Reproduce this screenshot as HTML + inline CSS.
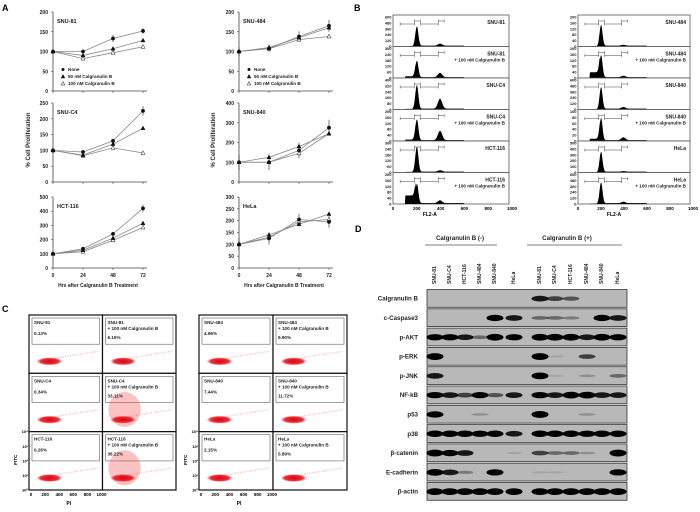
<!DOCTYPE html>
<html><head><meta charset="utf-8"><style>
body{margin:0;background:#fff}svg{display:block;font-family:"Liberation Sans",sans-serif}
</style></head><body>
<svg id="fig" width="700" height="512" viewBox="0 0 700 512">
<text x="2" y="11" font-size="9" font-weight="bold">A</text>
<text x="354" y="11" font-size="9" font-weight="bold">B</text>
<text x="2" y="312" font-size="9" font-weight="bold">C</text>
<text x="355" y="232" font-size="9" font-weight="bold">D</text>
<g id="A"></g><g id="B"></g><g id="C"></g><g id="D"></g>
</svg>
<script>
const NS="http://www.w3.org/2000/svg";
function mk(p,t,a,txt){const e=document.createElementNS(NS,t);for(const k in a)e.setAttribute(k,a[k]);if(txt!==undefined)e.textContent=txt;p.appendChild(e);return e;}

// ---------- Panel A data ----------
const hours=[0,24,48,72];
const cellLinesA=["SNU-81","SNU-C4","HCT-116","SNU-484","SNU-840","HeLa"];
const yMaxA=[200,250,500,200,400,300];
const yStepA=[50,50,100,50,100,50];
const seriesNone=[[100,100,133,152],[100,95,130,225],[100,135,240,420],[100,108,138,165],[100,100,160,275],[100,125,205,195]];
const series50=[[100,90,107,128],[100,85,120,170],[100,125,210,315],[100,110,135,160],[100,125,180,245],[100,140,185,228]];
const series100=[[100,82,97,112],[100,83,108,92],[100,115,195,285],[100,107,130,138],[100,100,145,245],[100,130,195,205]];
const errNone=[[3,4,9,7],[4,5,6,15],[5,8,12,25],[12,10,13,15],[40,40,40,40],[25,25,25,25]];

const A=document.getElementById('A');
const colX=[[53,143],[239,329]];
const rowY=[[12,91],[103,182],[197,268]];
for(let i=0;i<6;i++){
  const c=Math.floor(i/3),r=i%3;
  const [x0,x1]=colX[c],[yt,yb]=rowY[r];
  const g=mk(A,'g',{});
  
  
  const xs=h=>x0+(h/72)*(x1-x0), ys=v=>yb-(v/yMaxA[i])*(yb-yt);
  mk(g,'line',{x1:x0,y1:yt,x2:x0,y2:yb,stroke:'#444','stroke-width':0.8});
  mk(g,'line',{x1:x0,y1:yb,x2:x1+4,y2:yb,stroke:'#444','stroke-width':0.8});
  for(let v=0;v<=yMaxA[i];v+=yStepA[i]){
    mk(g,'line',{x1:x0-2,y1:ys(v),x2:x0,y2:ys(v),stroke:'#444','stroke-width':0.6});
    const t=mk(g,'text',{x:x0-5,y:ys(v)+2,'font-size':5,'text-anchor':'end','font-weight':'bold',fill:'#222'},v);
    
  }
  hours.forEach(h=>mk(g,'line',{x1:xs(h),y1:yb,x2:xs(h),y2:yb+2,stroke:'#444','stroke-width':0.6}));
  if(r===2){hours.forEach(h=>{const t=mk(g,'text',{x:xs(h),y:yb+9,'font-size':5,'text-anchor':'middle','font-weight':'bold',fill:'#222'},h);});
    const t=mk(g,'text',{x:(x0+x1)/2,y:yb+19,'font-size':5,'text-anchor':'middle','font-weight':'bold',fill:'#222'},'Hrs after Calgranulin B Treatment');}
  const lt=mk(g,'text',{x:x0+4,y:yt+11,'font-size':5.5,'font-weight':'bold',fill:'#222'},cellLinesA[i]);
  
  const all=[[series100[i],'open'],[series50[i],'tri'],[seriesNone[i],'circ']];
  all.forEach(([s,type])=>{
    mk(g,'polyline',{points:s.map((v,k)=>xs(hours[k])+','+ys(v)).join(' '),fill:'none',stroke:'#888','stroke-width':0.8});
  });
  seriesNone[i].forEach((v,k)=>{const e=errNone[i][k];mk(g,'line',{x1:xs(hours[k]),y1:ys(v-e),x2:xs(hours[k]),y2:ys(v+e),stroke:'#222','stroke-width':0.6});});
  all.forEach(([s,type])=>s.forEach((v,k)=>{
    const x=xs(hours[k]),y=ys(v);let m;
    if(type==='circ')m=mk(g,'circle',{cx:x,cy:y,r:1.9,fill:'#111'});
    else m=mk(g,'polygon',{points:`${x},${y-2.2} ${x-2},${y+1.5} ${x+2},${y+1.5}`,fill:type==='tri'?'#111':'#fff',stroke:'#111','stroke-width':0.5});
    
  }));
  if(r===0){
    const lg=mk(g,'g',{});
    const lx=x0+10,names=['None','50 nM Calgranulin  B','100 nM Calgranulin  B'];
    names.forEach((n,k)=>{const y=yt+59+k*7;
      if(k===0)mk(lg,'circle',{cx:lx,cy:y-1.5,r:1.5,fill:'#111'});
      else mk(lg,'polygon',{points:`${lx},${y-3.5} ${lx-1.8},${y} ${lx+1.8},${y}`,fill:k===1?'#111':'#fff',stroke:'#111','stroke-width':0.5});
      mk(lg,'text',{x:lx+5,y:y,'font-size':4.6,'font-weight':'bold',fill:'#222'},n);});
  }
}
[[30,140],[215,140]].forEach(([x,y])=>{const t=mk(A,'text',{x:x,y:y,'font-size':6,'font-weight':'bold','text-anchor':'middle',fill:'#222',transform:`rotate(-90 ${x} ${y})`},'% Cell Proliferation');});

// ---------- Panel B data ----------
const histLabels=[["SNU-81","SNU-81|+ 100 nM Calgranulin  B","SNU-C4","SNU-C4|+ 100 nM Calgranulin  B","HCT-116","HCT-116|+ 100 nM Calgranulin  B"],
 ["SNU-484","SNU-484|+ 100 nM Calgranulin B","SNU-840","SNU-840|+ 100 nM Calgranulin  B","HeLa","HeLa|+ 100 nM Calgranulin  B"]];
const histYTicks=[[[120,240,360,480,600],[60,120,180,240,300],[80,160,240,320,400],[40,80,120,160,200],[60,120,180,240,300],[40,80,120,160,200]],
 [[40,80,120,160,200],[40,80,120,160,200],[120,240,360,480,600],[20,40,60,80,100],[100,200,300,400,500],[120,240,360,480,600]]];
const g1Peak=[[0.7,0.6,0.85,0.75,0.9,0.7],[0.75,0.8,0.78,0.8,0.72,0.75]];
const g2Peak=[[0.07,0.15,0.35,0.33,0.05,0.1],[0.03,0.05,0.06,0.1,0.02,0.05]];
const subG1=[[0.01,0.06,0.02,0.05,0.02,0.3],[0.01,0.2,0.01,0.08,0.01,0.01]];
const B=document.getElementById('B');
const bCols=[[393,512],[578,693]];
for(let c=0;c<2;c++)for(let i=0;i<6;i++){
  const [x0,x1]=bCols[c];const y0=15+i*31.5,h=31.5;
  const g=mk(B,'g',{});
  mk(g,'rect',{x:x0,y:y0,width:x1-x0-3,height:h,fill:'#fff',stroke:'#555','stroke-width':0.8});
  const xs=v=>x0+v/1000*(x1-x0);const ymax=histYTicks[c][i][4];
  histYTicks[c][i].forEach(v=>{mk(g,'text',{x:x0-1.5,y:y0+h-(v/ymax)*(h-2)+1.5,'font-size':4,'text-anchor':'end','font-weight':'bold',fill:'#222'},v);});
  mk(g,'text',{x:x0-1.5,y:y0+h+1.5,'font-size':4,'text-anchor':'end','font-weight':'bold'},'0');
  let d=`M${xs(0)},${y0+h}`;
  for(let v=60;v<=1000;v+=4){
    const p=g1Peak[c][i]*Math.exp(-Math.pow((v-200)/18,2))+g2Peak[c][i]*Math.exp(-Math.pow((v-395)/25,2))+(v>100&&v<190?subG1[c][i]:0)+(v>200&&v<600?0.03:0);
    d+=` L${xs(v)},${y0+h-Math.min(p,1)*(h-3)}`;
  }
  d+=` L${xs(1000)},${y0+h} Z`;
  mk(g,'path',{d:d,fill:'#000'});
  [[60,180],[180,230],[230,380],[380,430]].forEach(([a,b],k)=>{const gy=y0+6+(k%2===0?3:0);
    mk(g,'path',{d:`M${xs(a)},${gy-1.5}v3M${xs(a)},${gy}H${xs(b)}M${xs(b)},${gy-1.5}v3`,stroke:'#444','stroke-width':0.5,fill:'none'});});
  const parts=histLabels[c][i].split('|');
  parts.forEach((t,k)=>{const e=mk(g,'text',{x:x1-7,y:y0+9+k*6,'font-size':k?4.6:5,'text-anchor':'end','font-weight':'bold',fill:'#222'},t);});
  if(i===5){[0,200,400,600,800,1000].forEach(v=>mk(g,'text',{x:xs(v),y:y0+h+6,'font-size':4.5,'text-anchor':'middle','font-weight':'bold'},v));
    mk(g,'text',{x:xs(200)+13,y:y0+h+12,'font-size':5,'text-anchor':'middle','font-weight':'bold'},'FL2-A');}
}

// ---------- Panel C ----------
const scatterLabels=[["SNU-81","SNU-81|+ 100 nM Calgranulin  B","SNU-C4","SNU-C4|+ 100 nM Calgranulin  B","HCT-116","HCT-116|+ 100 nM Calgranulin  B"],
 ["SNU-484","SNU-484|+ 100 nM Calgranulin  B","SNU-840","SNU-840|+ 100 nM Calgranulin  B","HeLa","HeLa|+ 100 nM Calgranulin  B"]];
const apoptosisPct=[["0.13%","6.15%","0.34%","33.11%","0.26%","36.22%"],["4.96%","9.90%","7.44%","11.72%","2.15%","5.89%"]];
const C=document.getElementById('C');
const cGrid=[[29,176],[199,347]];
mk(C,'defs',{}).innerHTML='<radialGradient id="blob"><stop offset="0" stop-color="#e00010"/><stop offset="0.7" stop-color="#e41a24" stop-opacity="0.9"/><stop offset="1" stop-color="#f06060" stop-opacity="0"/></radialGradient>';
for(let c=0;c<2;c++){
  const [x0,x1]=cGrid[c];const cw=(x1-x0)/2,ch=175/3,y0=315;
  for(let k=0;k<6;k++){
    const r=Math.floor(k/2),col=k%2;const px=x0+col*cw,py=y0+r*ch;
    const g=mk(C,'g',{});
    mk(g,'rect',{x:px,y:py,width:cw,height:ch,fill:'#fff',stroke:'#111','stroke-width':1.2});
    const treated=col===1;
    mk(g,'rect',{x:px+3,y:py+3,width:cw-6,height:ch*0.45,fill:'none',stroke:'#777','stroke-width':0.7});
    const pct=parseFloat(apoptosisPct[c][k]);
    mk(g,'path',{d:`M${px+14},${py+ch-13} Q${px+cw*0.5},${py+ch-17} ${px+cw-4},${py+ch-22}`,stroke:'#f08080','stroke-width':1.5,fill:'none',opacity:0.5,'stroke-dasharray':'1 1.5'});
    if(pct>30)mk(g,'ellipse',{cx:px+cw*0.3,cy:py+ch*0.62,rx:cw*0.22,ry:ch*0.3,fill:'#f05050',opacity:0.35});
    mk(g,'ellipse',{cx:px+cw*0.28,cy:py+ch-12,rx:cw*0.18,ry:4,fill:'url(#blob)'});
    const parts=scatterLabels[c][k].split('|');
    parts.forEach((t,j)=>mk(g,'text',{x:px+5,y:py+9+j*6,'font-size':4.6,'font-weight':'bold',fill:'#222'},t));
    const pt=mk(g,'text',{x:px+5,y:py+(parts.length>1?24:20),'font-size':4.6,'font-weight':'bold',fill:'#222'},apoptosisPct[c][k]);
    
  }
  const ly=y0+2*ch;
  ['10⁰','10¹','10²','10³','10⁴'].forEach((t,j)=>mk(C,'text',{x:x0-1,y:ly+ch-j*(ch/4)+1.5,'font-size':4,'text-anchor':'end','font-weight':'bold'},t));
  mk(C,'text',{x:x0-12,y:ly+ch/2+4,'font-size':4.6,'font-weight':'bold',transform:`rotate(-90 ${x0-12} ${ly+ch/2+4})`},'FITC');
  [0,200,400,600,800,1000].forEach((v,j)=>mk(C,'text',{x:x0+2+j*(cw-3)/5,y:y0+175+6,'font-size':4.5,'text-anchor':'middle','font-weight':'bold'},v));
  mk(C,'text',{x:x0+cw/2+3,y:y0+175+15,'font-size':5,'text-anchor':'middle','font-weight':'bold'},'PI');
}

// ---------- Panel D ----------
const proteins=["Calgranulin B","c-Caspase3","p-AKT","p-ERK","p-JNK","NF-kB","p53","p38","β-catenin","E-cadherin","β-actin"];
const lanes=["SNU-81","SNU-C4","HCT-116","SNU-484","SNU-840","HeLa"];
const bandCalgranulin=[0,0,0,0,0,0,.8,.6,.5,0,0,0];
const bandCasp3=[0,0,0,0,.9,.8,.4,.4,.3,0,.9,.8];
const bandAKT=[.9,.9,.8,.4,1,.9,1,1,1,.8,1,.9];
const bandERK=[1,0,0,0,0,0,1,.1,0,.6,0,0];
const bandJNK=[.8,0,0,0,0,0,1,.1,0,.2,0,.4];
const bandNFkB=[.9,.8,.6,.9,.5,.8,.9,.8,1,1,.8,.8];
const bandP53=[.9,0,0,.2,0,0,1,0,0,.2,0,0];
const bandP38=[.95,.95,.95,.9,.95,.8,.95,.95,.95,.9,.95,.95];
const bandCatenin=[1,.9,.8,0,0,.1,.6,.4,.4,.2,0,1];
const bandEcad=[1,.8,.3,0,.9,0,.1,.1,0,0,0,.9];
const bandActin=[1,1,1,1,1,1,1,1,1,1,1,1];
const bands=[bandCalgranulin,bandCasp3,bandAKT,bandERK,bandJNK,bandNFkB,bandP53,bandP38,bandCatenin,bandEcad,bandActin];
const D=document.getElementById('D');
const laneX=[434,449,464,479,494,513,539,554,570,586,601,617];
[["Calgranulin B (-)",460,425,497],["Calgranulin B (+)",567,527,622]].forEach(([t,cx,a,b])=>{
  const e=mk(D,'text',{x:cx,y:240,'font-size':6.2,'font-weight':'bold','text-anchor':'middle',fill:'#222'},t);
  mk(D,'line',{x1:a,y1:245,x2:b,y2:245,stroke:'#999','stroke-width':1.2});});
laneX.forEach((x,k)=>{const t=mk(D,'text',{x:x+2,y:284,'font-size':5,'font-weight':'bold',fill:'#222',transform:`rotate(-90 ${x+2} 284)`},lanes[k%6]);});
const rh=19.3;
proteins.forEach((p,r)=>{
  const y=289+r*rh;
  const g=mk(D,'g',{});
  mk(g,'rect',{x:427,y:y+0.5,width:200,height:rh-1.5,fill:'#b8b8b8',stroke:'#333','stroke-width':0.8});
  bands[r].forEach((v,k)=>{if(v>0.05)mk(g,'ellipse',{cx:laneX[k]+1,cy:y+rh/2,rx:8.5,ry:0.8+v*2.6,fill:'#000',opacity:Math.min(1,v*1.1)});});
  const t=mk(g,'text',{x:418,y:y+rh/2+2,'font-size':6.2,'font-weight':'bold','text-anchor':'end',fill:'#222'},p);
  
});
</script>
</body></html>
